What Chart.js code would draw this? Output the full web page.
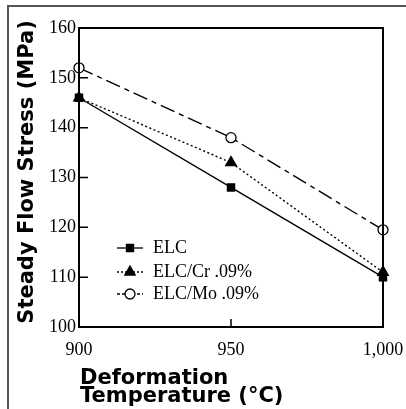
<!DOCTYPE html>
<html>
<head>
<meta charset="utf-8">
<script src="https://cdn.jsdelivr.net/npm/chart.js@4.4.1/dist/chart.umd.min.js"></script>
<style>
html,body{margin:0;padding:0;background:#fff;}
#wrap{width:406px;height:409px;position:relative;}
</style>
</head>
<body>
<div id="wrap"><canvas id="Chart1" width="406" height="409"></canvas></div>
<script>
// data
var temps = [900, 950, 1000];
var tickLabels = {900: '900', 950: '950', 1000: '1,000'};
var elc = [146, 128, 110];
var elcCr = [146, 133, 111];
var elcMo = [152, 138, 119.5];
var names = ['ELC', 'ELC/Cr .09%', 'ELC/Mo .09%'];

var serif = '"Liberation Serif", "DejaVu Serif", serif';
var heavy = '"DejaVu Sans", sans-serif';

function pts(arr) {
    var out = [];
    for (var i = 0; i < temps.length; i++) out.push({x: temps[i], y: arr[i]});
    return out;
}

// frame, inside ticks, axis titles, legend
var extras = {
    id: 'extras',
    afterDraw: function (chart) {
        var ctx = chart.ctx;
        var a = chart.chartArea;
        var xs = chart.scales.x, ys = chart.scales.y;
        ctx.save();
        // outer figure border (top + left)
        ctx.strokeStyle = '#555';
        ctx.lineWidth = 2;
        ctx.beginPath();
        ctx.moveTo(406, 6); ctx.lineTo(8, 6); ctx.lineTo(8, 409);
        ctx.stroke();
        // plot box
        ctx.strokeStyle = '#000';
        ctx.lineWidth = 2;
        ctx.strokeRect(a.left, a.top, a.right - a.left, a.bottom - a.top);
        // inner ticks
        ctx.lineWidth = 1.5;
        ctx.beginPath();
        [110, 120, 130, 140, 150].forEach(function (v) {
            var y = ys.getPixelForValue(v);
            ctx.moveTo(a.left, y); ctx.lineTo(a.left + 9, y);
        });
        var xm = xs.getPixelForValue(950);
        ctx.moveTo(xm, a.bottom); ctx.lineTo(xm, a.bottom - 8);
        ctx.stroke();
        // axis titles
        ctx.fillStyle = '#000';
        ctx.font = 'bold 21px ' + heavy;
        ctx.textAlign = 'left';
        ctx.textBaseline = 'alphabetic';
        ctx.fillText('Deformation', 80, 384);
        ctx.fillText('Temperature (°C)', 80, 402);
        ctx.save();
        ctx.translate(33, 172);
        ctx.rotate(-Math.PI / 2);
        ctx.textAlign = 'center';
        ctx.font = 'bold 21px ' + heavy;
        ctx.fillText('Steady Flow Stress (MPa)', 0, 0);
        ctx.restore();
        // legend
        var ds = chart.data.datasets;
        var ly = [248, 272, 294];
        for (var i = 0; i < ds.length; i++) {
            var d = ds[i];
            var y = ly[i];
            ctx.strokeStyle = '#000';
            ctx.lineWidth = 1.3;
            ctx.setLineDash(i == 1 ? [2, 2] : (i == 2 ? [3, 2] : []));
            ctx.beginPath();
            ctx.moveTo(117, y); ctx.lineTo(143, y);
            ctx.stroke();
            ctx.setLineDash([]);
            ctx.fillStyle = d.pointBackgroundColor;
            Chart.helpers.drawPoint(ctx, {
                pointStyle: d.pointStyle, radius: d.pointRadius, rotation: 0, borderWidth: 1.3
            }, 130, y);
            ctx.fillStyle = '#000';
            ctx.font = '18px ' + serif;
            ctx.textAlign = 'left';
            ctx.textBaseline = 'middle';
            ctx.fillText(names[i], 153, y);
        }
        ctx.restore();
    }
};

var ctx = document.getElementById('Chart1').getContext('2d');
var chart = new Chart(ctx, {
    type: 'line',
    data: {
        datasets: [
            {label: names[0], data: pts(elc), borderColor: '#000', borderWidth: 1.4,
             pointStyle: 'rect', pointRadius: 5, pointBackgroundColor: '#000', pointBorderColor: '#000'},
            {label: names[1], data: pts(elcCr), borderColor: '#000', borderWidth: 1.4, borderDash: [2, 2.5],
             pointStyle: 'triangle', pointRadius: 6, pointBackgroundColor: '#000', pointBorderColor: '#000'},
            {label: names[2], data: pts(elcMo), borderColor: '#000', borderWidth: 1.4, borderDash: [15, 5, 5, 5],
             pointStyle: 'circle', pointRadius: 5, pointBackgroundColor: '#fff', pointBorderColor: '#000', pointBorderWidth: 1.3}
        ]
    },
    options: {
        responsive: false,
        animation: false,
        events: [],
        clip: false,
        layout: {padding: {left: 0, right: 23, top: 28, bottom: 0}},
        plugins: {legend: {display: false}, tooltip: {enabled: false}},
        scales: {
            x: {
                type: 'linear', min: 900, max: 1000,
                afterBuildTicks: function (s) { s.ticks = temps.map(function (t) { return {value: t}; }); },
                afterFit: function (s) { s.height = 409 - 327; s.paddingRight = 0; s.paddingLeft = 0; },
                grid: {display: false, drawTicks: false},
                border: {display: false},
                ticks: {
                    color: '#000', font: {family: serif, size: 18}, padding: 12,
                    callback: function (v) { return tickLabels[v]; }
                }
            },
            y: {
                min: 100, max: 160,
                afterFit: function (s) { s.width = 79; s.paddingTop = 0; s.paddingBottom = 0; },
                grid: {display: false, drawTicks: false},
                border: {display: false},
                ticks: {stepSize: 10, color: '#000', font: {family: serif, size: 18}, padding: 3}
            }
        }
    },
    plugins: [extras]
});
</script>
</body>
</html>
